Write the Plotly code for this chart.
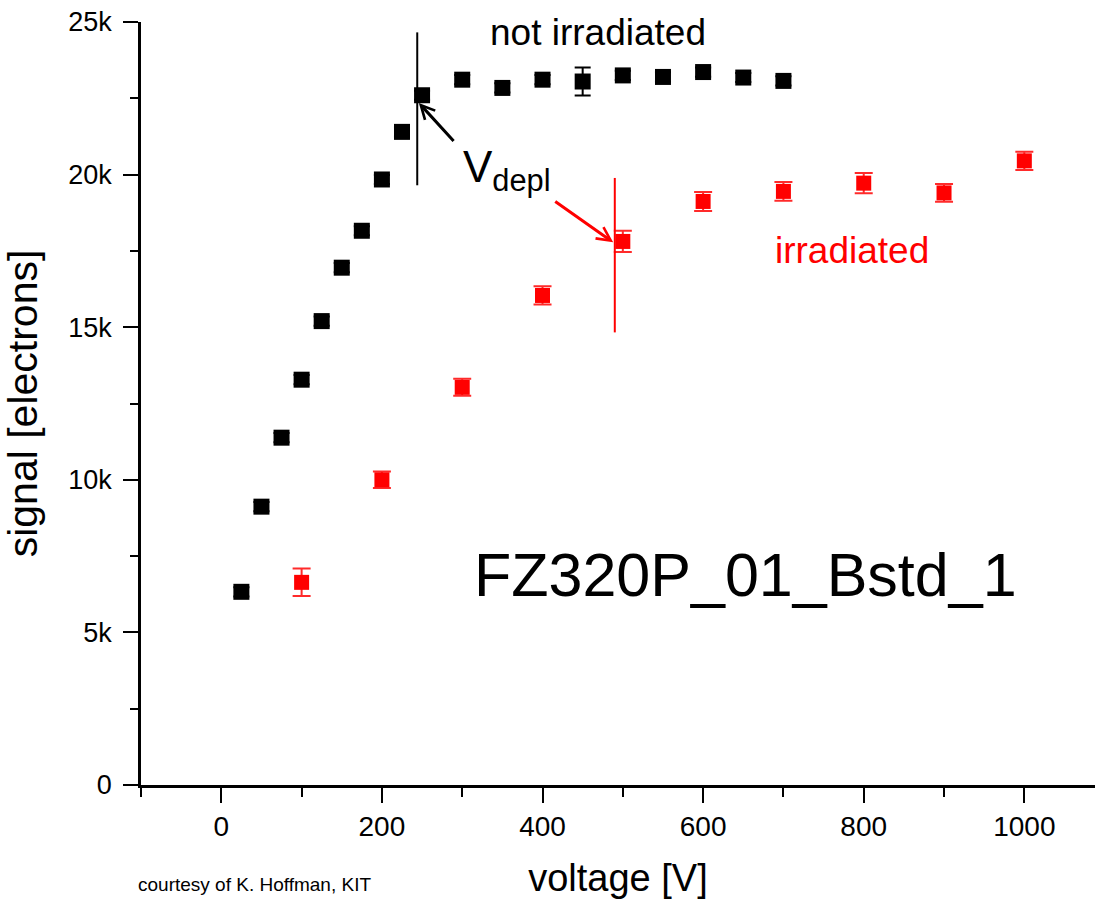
import plotly.graph_objects as go

# Signal vs. bias voltage for sensor FZ320P_01_Bstd_1
volt_plain = [25, 50, 75, 100, 125, 150, 175, 200, 225, 250, 300, 350, 400, 450, 500, 550, 600, 650, 700]
signal_plain = [6330, 9120, 11380, 13280, 15200, 16950, 18160, 19840, 21400, 22600,
                23110, 22840, 23110, 23050, 23250, 23200, 23360, 23180, 23070]
err_plain = [150, 150, 150, 150, 150, 150, 150, 150, 150, 150,
             150, 150, 150, 460, 150, 150, 150, 150, 150]

volt_irr = [100, 200, 300, 400, 500, 600, 700, 800, 900, 1000]
signal_irr = [6640, 10000, 13030, 16040, 17810, 19120, 19450, 19720, 19400, 20450]
err_irr = [450, 270, 280, 300, 350, 310, 310, 330, 290, 300]

# Depletion voltages marked by vertical lines
v_depl_plain = 244
v_depl_irr = 490

y_ticks = [0, 5000, 10000, 15000, 20000, 25000]
y_labels = ["0", "5k", "10k", "15k", "20k", "25k"]
x_ticks = [0, 200, 400, 600, 800, 1000]

FONT = "Arial, Liberation Sans, sans-serif"

fig = go.Figure()

fig.add_trace(go.Scatter(
    x=volt_plain, y=signal_plain, mode="markers",
    marker=dict(symbol="square", size=16, color="black"),
    error_y=dict(type="data", array=err_plain, color="black", thickness=2, width=8),
    showlegend=False,
))
fig.add_trace(go.Scatter(
    x=volt_irr, y=signal_irr, mode="markers",
    marker=dict(symbol="square", size=15, color="red"),
    error_y=dict(type="data", array=err_irr, color="#ff2a2a", thickness=2, width=9),
    showlegend=False,
))

# depletion markers
fig.add_shape(type="line", x0=v_depl_plain, x1=v_depl_plain, y0=19650, y1=24660,
              line=dict(color="black", width=2))
fig.add_shape(type="line", x0=v_depl_irr, x1=v_depl_irr, y0=14830, y1=19890,
              line=dict(color="red", width=2))

fig.add_annotation(x=246, y=22350, ax=291, ay=21050, axref="x", ayref="y",
                   xref="x", yref="y", text="", showarrow=True,
                   arrowhead=5, arrowsize=0.9, arrowwidth=3, arrowcolor="black")
fig.add_annotation(x=488, y=17780, ax=414, ay=19150, axref="x", ayref="y",
                   xref="x", yref="y", text="", showarrow=True,
                   arrowhead=5, arrowsize=0.9, arrowwidth=3, arrowcolor="red")

fig.add_annotation(x=299, y=20150, xref="x", yref="y", xanchor="left", yanchor="middle",
                   text="V<sub>depl</sub>", showarrow=False,
                   font=dict(family=FONT, size=44, color="black"))
fig.add_annotation(x=469, y=24650, xref="x", yref="y", text="not irradiated",
                   showarrow=False, font=dict(family=FONT, size=37, color="black"))
fig.add_annotation(x=786, y=17500, xref="x", yref="y", text="irradiated",
                   showarrow=False, font=dict(family=FONT, size=37, color="red"))
fig.add_annotation(x=653, y=6880, xref="x", yref="y", text="FZ320P_01_Bstd_1",
                   showarrow=False, font=dict(family=FONT, size=61, color="black"))
fig.add_annotation(x=-0.005, y=-0.13, xref="paper", yref="paper", xanchor="left",
                   yanchor="middle", text="courtesy of K. Hoffman, KIT",
                   showarrow=False, font=dict(family=FONT, size=19, color="black"))

fig.update_layout(
    width=1095, height=904,
    margin=dict(l=141, r=0, t=22, b=119),
    paper_bgcolor="white", plot_bgcolor="white",
    font=dict(family=FONT, color="black"),
    xaxis=dict(
        range=[-100, 1088], tickvals=x_ticks, ticks="outside", ticklen=15, tickwidth=2,
        tickcolor="black", showline=True, linecolor="black", linewidth=2.5,
        showgrid=False, zeroline=False, tickfont=dict(size=28),
        minor=dict(dtick=200, tick0=-100, ticks="outside", ticklen=9, tickwidth=2,
                   tickcolor="black", showgrid=False),
        title=dict(text="voltage [V]", font=dict(size=38), standoff=24),
    ),
    yaxis=dict(
        range=[0, 25000], tickvals=y_ticks, ticktext=y_labels, ticks="outside",
        ticklen=15, tickwidth=2, tickcolor="black", showline=True, linecolor="black",
        linewidth=2.5, showgrid=False, zeroline=False, tickfont=dict(size=27),
        ticklabelstandoff=6,
        minor=dict(dtick=2500, tick0=0, ticks="outside", ticklen=8, tickwidth=2,
                   tickcolor="black", showgrid=False),
        title=dict(text="signal [electrons]", font=dict(size=41), standoff=18),
    ),
)

fig.write_html("out.html")
